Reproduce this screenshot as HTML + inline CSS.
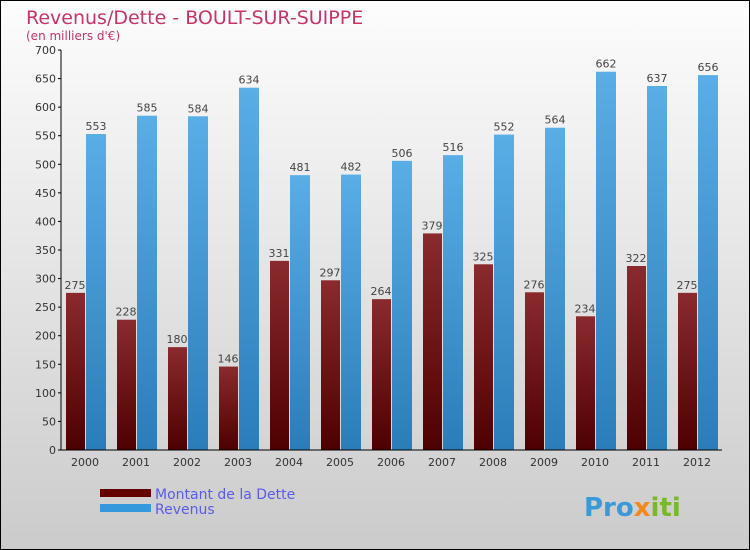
<!DOCTYPE html>
<html><head><meta charset="utf-8"><style>
body{margin:0}
svg{display:block;font-family:"DejaVu Sans","Liberation Sans",sans-serif}
</style></head><body>
<svg width="750" height="550">
<defs>
<linearGradient id="bg" x1="0" y1="0" x2="0" y2="1"><stop offset="0" stop-color="#fdfdfd"/><stop offset="1" stop-color="#cbcbcb"/></linearGradient>
<linearGradient id="gd" x1="0" y1="0" x2="0" y2="1"><stop offset="0" stop-color="#8a2a2e"/><stop offset="1" stop-color="#4e0000"/></linearGradient>
<linearGradient id="gr" x1="0" y1="0" x2="0" y2="1"><stop offset="0" stop-color="#5aaee6"/><stop offset="1" stop-color="#2a7db8"/></linearGradient>
</defs>
<rect x="0.5" y="0.5" width="749" height="549" fill="url(#bg)" stroke="#000"/>
<text x="26" y="24" font-size="19" fill="#c8336a">Revenus/Dette - BOULT-SUR-SUIPPE</text>
<text x="26" y="40" font-size="12" fill="#c8336a">(en milliers d'€)</text>
<g id="plot"></g>
<rect x="100" y="489" width="51" height="8" fill="#640000"/>
<text x="155" y="499" font-size="14" fill="#5a5aee">Montant de la Dette</text>
<rect x="100" y="504" width="51" height="8" fill="#3498dd"/>
<text x="155" y="514" font-size="14" fill="#5a5aee">Revenus</text>
<text x="584" y="516" font-size="26" font-weight="bold" fill="#3a9ad8">Pro<tspan fill="#f08a1c">x</tspan><tspan fill="#7ab82a">iti</tspan></text>
</svg>
<script>
const years=["2000","2001","2002","2003","2004","2005","2006","2007","2008","2009","2010","2011","2012"];
const dette=[275,228,180,146,331,297,264,379,325,276,234,322,275];
const revenus=[553,585,584,634,481,482,506,516,552,564,662,637,656];
const yTicks=[0,50,100,150,200,250,300,350,400,450,500,550,600,650,700];
const NS="http://www.w3.org/2000/svg";
const g=document.getElementById('plot');
const y=v=>450-v*400/700;
const xc=i=>85+51*i;
function mk(t,a,txt){const e=document.createElementNS(NS,t);for(const k in a)e.setAttribute(k,a[k]);if(txt!=null)e.textContent=txt;g.appendChild(e);return e;}
years.forEach((yr,i)=>{
  const c=xc(i);
  let r=mk('rect',{x:c-19,y:y(dette[i]),width:19,height:450-y(dette[i]),fill:'url(#gd)'});
  
  
  r=mk('rect',{x:c+1,y:y(revenus[i]),width:20,height:450-y(revenus[i]),fill:'url(#gr)'});
  
  
  let t=mk('text',{x:c-10,y:y(dette[i])-4,'font-size':11,fill:'#444','text-anchor':'middle'},String(dette[i]));
  
  
  t=mk('text',{x:c+11,y:y(revenus[i])-4,'font-size':11,fill:'#444','text-anchor':'middle'},String(revenus[i]));
  
  
  t=mk('text',{x:c,y:466,'font-size':11,fill:'#333','text-anchor':'middle'},yr);
  
  
});
yTicks.forEach(v=>{
  mk('line',{x1:58,x2:61,y1:y(v),y2:y(v),stroke:'#000'});
  const t=mk('text',{x:56,y:y(v)+4,'font-size':11,fill:'#333','text-anchor':'end'},String(v));
  
  
});
let a=mk('line',{x1:61,x2:61,y1:50,y2:450,stroke:'#000'});


a=mk('line',{x1:58,x2:722,y1:450,y2:450,stroke:'#000'});


</script>
</body></html>
